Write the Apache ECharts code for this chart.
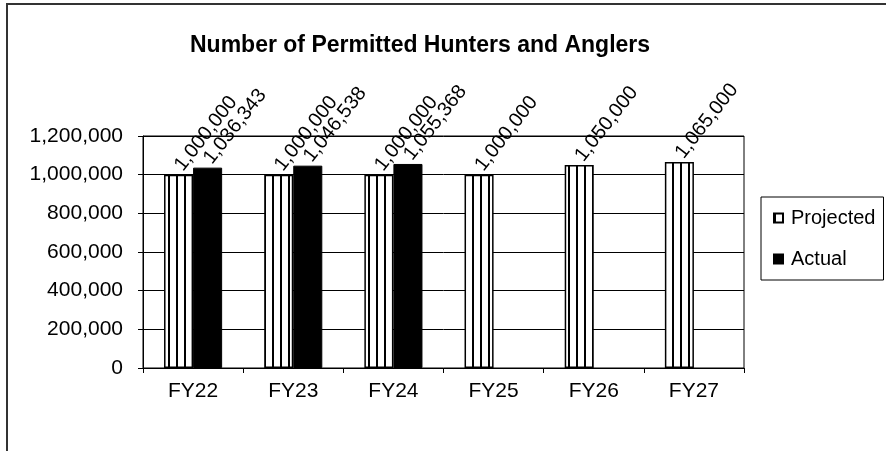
<!DOCTYPE html>
<html>
<head>
<meta charset="utf-8">
<title>Number of Permitted Hunters and Anglers</title>
<script src="https://cdn.jsdelivr.net/npm/echarts@6/dist/echarts.min.js"></script>
<style>
  html, body { margin: 0; padding: 0; background: #fff; }
  #chart { width: 886px; height: 451px; }
</style>
</head>
<body>
<div id="chart"></div>
<script>
// chart data
var categories = ['FY22', 'FY23', 'FY24', 'FY25', 'FY26', 'FY27'];
var projected = [1000000, 1000000, 1000000, 1000000, 1050000, 1065000];
var actual = [1036343, 1046538, 1055368, null, null, null];
var yTicks = [0, 200000, 400000, 600000, 800000, 1000000, 1200000];

var FONT = 'Arial, "Liberation Sans", sans-serif';

// vertical stripe fill for the projected bars
function stripes() {
  var c = document.createElement('canvas');
  c.width = 8;
  c.height = 8;
  var ctx = c.getContext('2d');
  ctx.fillStyle = '#fff';
  ctx.fillRect(0, 0, 8, 8);
  ctx.fillStyle = '#000';
  ctx.fillRect(0, 0, 2, 8);
  return c;
}

function fmt(v) {
  return String(v).replace(/\B(?=(\d{3})+(?!\d))/g, ',');
}

var barLabel = {
  show: true,
  position: 'top',
  rotate: 52,
  align: 'left',
  verticalAlign: 'middle',
  distance: 6,
  color: '#000',
  fontSize: 20,
  fontFamily: FONT,
  formatter: function (p) { return fmt(p.value); }
};

var chart = echarts.init(document.getElementById('chart'));
chart.setOption({
  backgroundColor: '#fff',
  animation: false,
  title: {
    text: 'Number of Permitted Hunters and Anglers',
    left: 185,
    top: 29,
    textStyle: { fontSize: 23, fontWeight: 'bold', color: '#000', fontFamily: FONT }
  },
  graphic: [{
    type: 'rect',
    shape: { x: 7, y: 4, width: 900, height: 470 },
    style: { fill: 'none', stroke: '#333', lineWidth: 2 },
    silent: true
  }],
  legend: {
    orient: 'vertical',
    left: 761,
    top: 197,
    padding: [11, 8, 11, 12],
    itemGap: 21,
    itemWidth: 9,
    itemHeight: 9,
    icon: 'rect',
    borderColor: '#000',
    borderWidth: 1,
    textStyle: { fontSize: 20, color: '#000', fontFamily: FONT, padding: [0, 0, 0, 3] },
    data: ['Projected', 'Actual']
  },
  grid: {
    left: 143,
    right: 142,
    top: 136,
    bottom: 83,
    show: true,
    borderColor: '#000',
    borderWidth: 1
  },
  xAxis: {
    type: 'category',
    data: categories,
    axisLine: { lineStyle: { color: '#000', width: 1 } },
    axisTick: { show: true, length: 5, lineStyle: { color: '#000' } },
    axisLabel: { color: '#000', fontSize: 21, fontFamily: FONT, margin: 13 }
  },
  yAxis: {
    type: 'value',
    min: yTicks[0],
    max: yTicks[yTicks.length - 1],
    interval: yTicks[1] - yTicks[0],
    axisLine: { show: true, lineStyle: { color: '#000', width: 1 } },
    axisTick: { show: true, length: 5, lineStyle: { color: '#000' } },
    splitLine: { show: true, lineStyle: { color: '#000', width: 1 } },
    axisLabel: { color: '#000', fontSize: 21, fontFamily: FONT, margin: 20, formatter: fmt }
  },
  series: [
    {
      name: 'Projected',
      type: 'bar',
      data: projected,
      barGap: '0%',
      barCategoryGap: '42%',
      itemStyle: {
        color: { image: stripes(), repeat: 'repeat' },
        borderColor: '#000',
        borderWidth: 1.5
      },
      label: barLabel
    },
    {
      name: 'Actual',
      type: 'bar',
      data: actual,
      barGap: '0%',
      barCategoryGap: '42%',
      itemStyle: { color: '#000', borderColor: '#000', borderWidth: 1 },
      label: barLabel
    }
  ]
});
</script>
</body>
</html>
